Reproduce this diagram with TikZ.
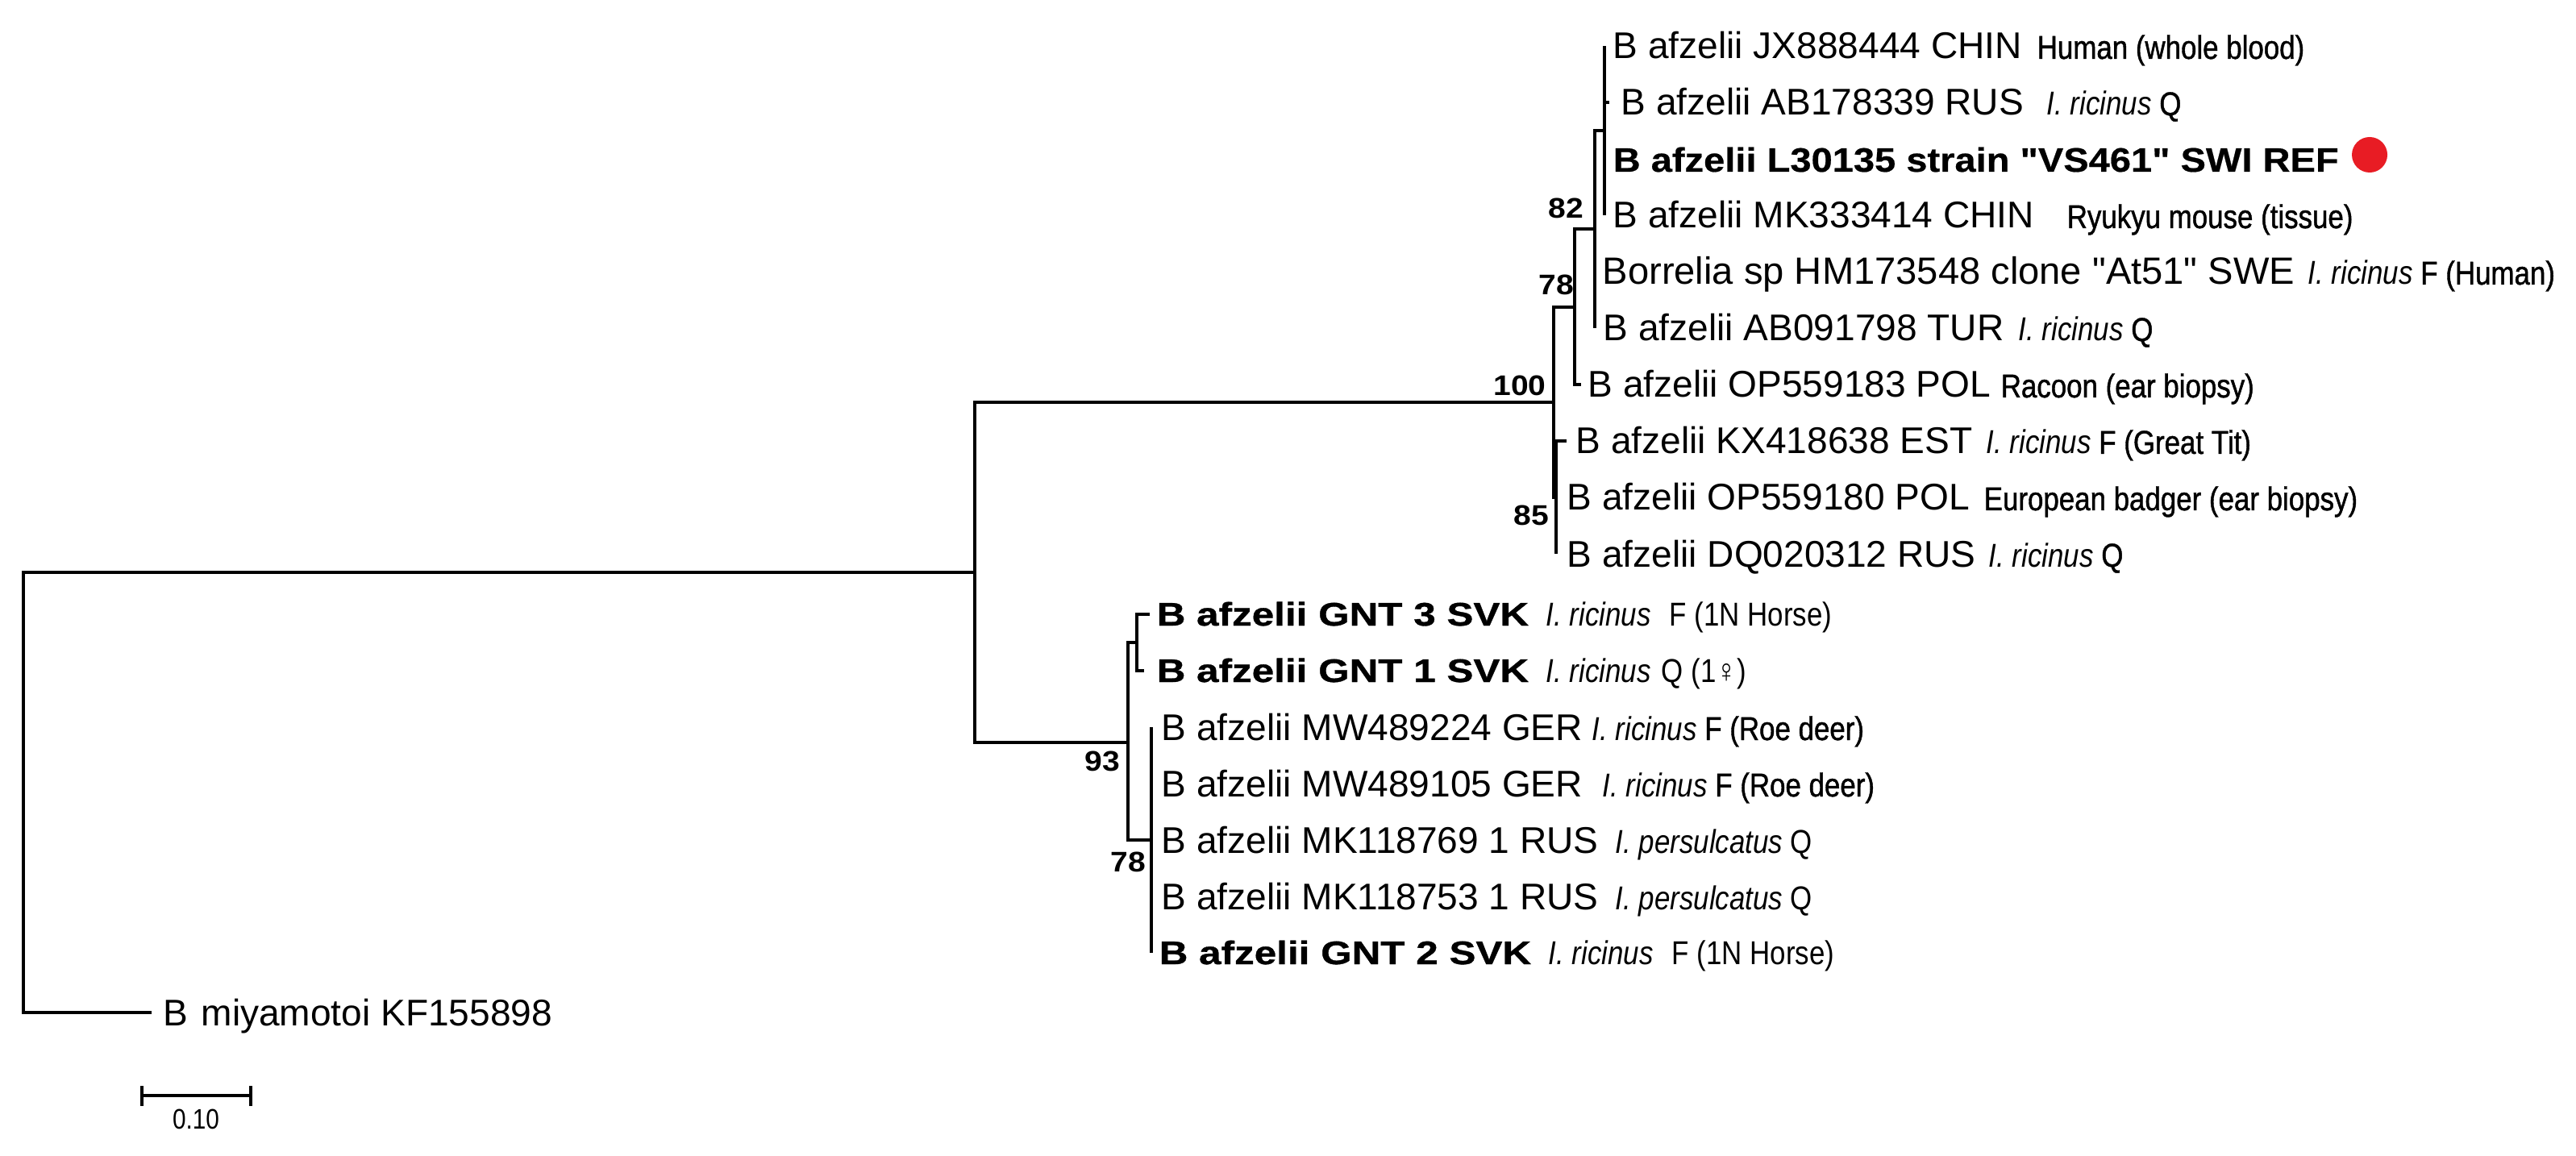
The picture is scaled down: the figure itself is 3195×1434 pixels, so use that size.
\documentclass[tikz,border=0pt]{standalone}
\usepackage{fontspec}
\setmainfont{Liberation Sans}
\newfontfamily\mainf[Ligatures=ResetAll]{Liberation Sans}
\newfontfamily\narfont[FakeStretch=0.85,Ligatures=ResetAll]{Liberation Sans}
\newfontfamily\narbfont[FakeStretch=0.85,FakeBold=1,Ligatures=ResetAll]{Liberation Sans}
\newfontfamily\widefont[FakeStretch=1.22,FakeBold=0.8,Ligatures=ResetAll]{Liberation Sans}
\newfontfamily\bootfont[FakeStretch=1.11,Ligatures=ResetAll]{Liberation Sans}
\newfontfamily\reffont[FakeStretch=1.12,FakeBold=0.5,Ligatures=ResetAll]{Liberation Sans}
\definecolor{reddot}{RGB}{232,28,36}
\tikzset{
  tree/.style={line width=1.05pt, line join=miter},
  lab/.style={anchor=base west, inner sep=0pt, font=\mainf\fontsize{13.1}{15}\selectfont},
  labbig/.style={anchor=base west, inner sep=0pt, font=\mainf\fontsize{13.4}{15}\selectfont},
  labref/.style={anchor=base west, inner sep=0pt, font=\reffont\bfseries\fontsize{11.95}{14}\selectfont},
  labgnt/.style={anchor=base west, inner sep=0pt, font=\widefont\bfseries\fontsize{11.52}{14}\selectfont},
  ann/.style={anchor=base west, inner sep=0pt, font=\narbfont\fontsize{11.67}{13}\selectfont},
  annit/.style={anchor=base west, inner sep=0pt, font=\narfont\itshape\fontsize{11.67}{13}\selectfont},
  annrg/.style={anchor=base west, inner sep=0pt, font=\narfont\fontsize{11.67}{13}\selectfont},
  boot/.style={anchor=base, inner sep=0pt, font=\bootfont\bfseries\fontsize{10}{12}\selectfont},
  scl/.style={anchor=base, inner sep=0pt, font=\narfont\fontsize{9.96}{11}\selectfont},
  dotnode/.style={circle, fill=reddot, draw=none, minimum size=0.44cm, inner sep=0pt},
  bar/.style={line width=0.9pt}
}
\begin{document}
\begin{tikzpicture}[x=0.01cm, y=-0.01cm]
\useasboundingbox (0,0) rectangle (3195,1434);
% internal nodes
\coordinate (R) at (29,983);
\coordinate (A) at (1209,710);
\coordinate (M) at (188,1256);
\coordinate (B) at (1927,499);
\coordinate (N93) at (1399,921);
\coordinate (C) at (1953,381);
\coordinate (F) at (1930,617);
\coordinate (D) at (1978,284);
\coordinate (E) at (1990,162);
\coordinate (G) at (1410,797);
\coordinate (N78) at (1428,1042);
% tips
\coordinate (l1) at (1990,57);
\coordinate (l2) at (1996,127);
\coordinate (l3) at (1990,197);
\coordinate (l4) at (1990,267);
\coordinate (l5) at (1978,337);
\coordinate (l6) at (1978,407);
\coordinate (l7) at (1961,477);
\coordinate (l8) at (1943,547);
\coordinate (l9) at (1930,617);
\coordinate (l10) at (1930,687);
\coordinate (l11) at (1426,762);
\coordinate (l12) at (1419,832);
\coordinate (l13) at (1428,902);
\coordinate (l14) at (1428,972);
\coordinate (l15) at (1428,1042);
\coordinate (l16) at (1428,1112);
\coordinate (l17) at (1428,1182);
% branches
\draw[tree] (R) |- (A);
\draw[tree] (R) |- (M);
\draw[tree] (A) |- (B);
\draw[tree] (A) |- (N93);
\draw[tree] (B) |- (C);
\draw[tree] (B) |- (F);
\draw[tree] (C) |- (D);
\draw[tree] (C) |- (l7);
\draw[tree] (D) |- (E);
\draw[tree] (D) |- (l5);
\draw[tree] (D) |- (l6);
\draw[tree] (E) |- (l1);
\draw[tree] (E) |- (l2);
\draw[tree] (E) |- (l3);
\draw[tree] (E) |- (l4);
\draw[tree] (F) |- (l8);
\draw[tree] (F) |- (l9);
\draw[tree] (F) |- (l10);
\draw[tree] (N93) |- (G);
\draw[tree] (N93) |- (N78);
\draw[tree] (G) |- (l11);
\draw[tree] (G) |- (l12);
\draw[tree] (N78) |- (l13);
\draw[tree] (N78) |- (l14);
\draw[tree] (N78) |- (l15);
\draw[tree] (N78) |- (l16);
\draw[tree] (N78) |- (l17);
% bootstrap values
\node[boot] (b82) at (1942,271) {82};
\node[boot] (b78a) at (1930,366) {78};
\node[boot] (b100) at (1885,491) {100};
\node[boot] (b85) at (1899,651) {85};
\node[boot] (b93) at (1367,956) {93};
\node[boot] (b78b) at (1399,1081) {78};
% leaf labels
\node[lab] (t1) at (2000,73) {B afzelii JX888444 CHIN};
\node[ann] (a1) at (2526,73) {Human (whole blood)};
\node[lab] (t2) at (2010,143) {B afzelii AB178339 RUS};
\node[ann] (a2) at (2538,143) {{\narfont\itshape I. ricinus} Q};
\node[labref] (t3) at (2000,213) {B afzelii L30135 strain "VS461" SWI REF};
\node[dotnode] (dot) at (2939,192) {};
\node[lab] (t4) at (2000,283) {B afzelii MK333414 CHIN};
\node[ann] (a4) at (2563,283) {Ryukyu mouse (tissue)};
\node[labbig] (t5) at (1987,353) {Borrelia sp HM173548 clone "At51" SWE};
\node[ann] (a5) at (2862,353) {{\narfont\itshape I. ricinus} F (Human)};
\node[lab] (t6) at (1988,423) {B afzelii AB091798 TUR};
\node[ann] (a6) at (2503,423) {{\narfont\itshape I. ricinus} Q};
\node[lab] (t7) at (1969,493) {B afzelii OP559183 POL};
\node[ann] (a7) at (2481,493) {Racoon (ear biopsy)};
\node[lab] (t8) at (1954,563) {B afzelii KX418638 EST};
\node[ann] (a8) at (2463,563) {{\narfont\itshape I. ricinus} F (Great Tit)};
\node[lab] (t9) at (1943,633) {B afzelii OP559180 POL};
\node[ann] (a9) at (2460,633) {European badger (ear biopsy)};
\node[lab] (t10) at (1943,703) {B afzelii DQ020312 RUS};
\node[ann] (a10) at (2466,703) {{\narfont\itshape I. ricinus} Q};
\node[labgnt] (t11) at (1434,776) {B afzelii GNT 3 SVK};
\node[annit] (a11) at (1917,776) {I. ricinus};
\node[annrg] (a11b) at (2070,776) {F (1N Horse)};
\node[labgnt] (t12) at (1434,846) {B afzelii GNT 1 SVK};
\node[annit] (a12) at (1917,846) {I. ricinus};
\node[annrg] (a12b) at (2060,846) {Q (1♀)};
\node[lab] (t13) at (1440,918) {B afzelii MW489224 GER};
\node[ann] (a13) at (1974,918) {{\narfont\itshape I. ricinus} F (Roe deer)};
\node[lab] (t14) at (1440,988) {B afzelii MW489105 GER};
\node[ann] (a14) at (1987,988) {{\narfont\itshape I. ricinus} F (Roe deer)};
\node[lab] (t15) at (1440,1058) {B afzelii MK118769 1 RUS};
\node[annrg] (a15) at (2003,1058) {{\itshape I. persulcatus} Q};
\node[lab] (t16) at (1440,1128) {B afzelii MK118753 1 RUS};
\node[annrg] (a16) at (2003,1128) {{\itshape I. persulcatus} Q};
\node[labgnt] (t17) at (1437,1196) {B afzelii GNT 2 SVK};
\node[annit] (a17) at (1920,1196) {I. ricinus};
\node[annrg] (a17b) at (2073,1196) {F (1N Horse)};
\node[lab] (tm) at (202,1272) {B\kern1pt\ miyamotoi KF155898};
% scale bar
\coordinate (s1) at (176,1359);
\coordinate (s2) at (311,1359);
\draw[bar] (s1) -- (s2);
\draw[bar] (176,1347) -- (176,1372);
\draw[bar] (311,1347) -- (311,1372);
\node[scl] (sl) at (243,1400) {0.10};
\end{tikzpicture}
\end{document}
